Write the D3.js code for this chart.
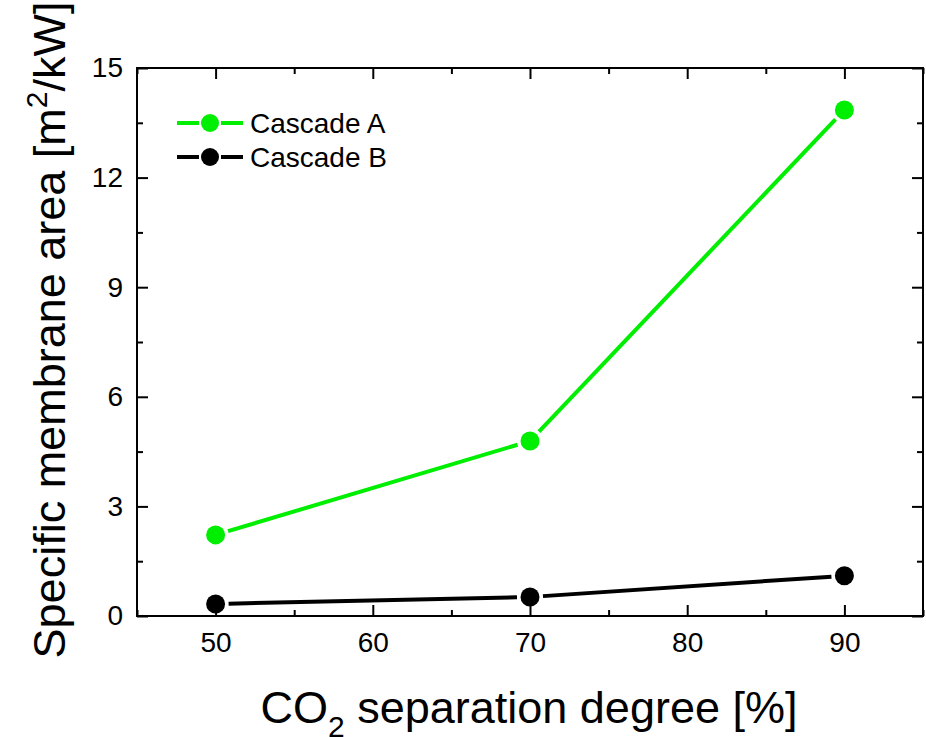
<!DOCTYPE html>
<html>
<head>
<meta charset="utf-8">
<script src="https://cdn.jsdelivr.net/npm/d3@7"></script>
<style>
  body { margin: 0; background: #fff; }
  text { font-family: "Liberation Sans", Arial, sans-serif; fill: #000; }
</style>
</head>
<body>
<div class="canvas"></div>
<script>
// data
const degrees = [50, 70, 90];
const cascadeA = [2.22, 4.79, 13.85];
const cascadeB = [0.33, 0.52, 1.1];
const seriesNames = ["Cascade A", "Cascade B"];
const xTicks = [50, 60, 70, 80, 90];
const yTicks = [0, 3, 6, 9, 12, 15];

const dims = { width: 926, height: 737 };
const margin = { left: 137, top: 68, right: 3, bottom: 121 };
const inner = {
  w: dims.width - margin.left - margin.right,
  h: dims.height - margin.top - margin.bottom
};
const colors = ["#00ee00", "#000000"];

const svg = d3
  .select(".canvas")
  .append("svg")
  .attr("width", dims.width)
  .attr("height", dims.height);

const graph = svg
  .append("g")
  .attr("transform", `translate(${margin.left}, ${margin.top})`);

const x = d3.scaleLinear().domain([45, 95]).range([0, inner.w]);
const y = d3.scaleLinear().domain([0, 15]).range([inner.h, 0]);

// axes, ticks pointing inwards
const axisStyle = (g) => {
  g.select(".domain").remove();
  g.selectAll("line").attr("stroke", "#000").attr("stroke-width", 2);
  g.selectAll("text").style("font-size", "28px").attr("fill", "#000");
};

const xMinor = d3.range(45, 96, 5).filter((v) => !xTicks.includes(v));
const yMinor = d3.range(1.5, 15, 3);

graph.append("g")
  .attr("transform", `translate(0, ${inner.h})`)
  .call(d3.axisBottom(x).tickValues(xTicks).tickSizeInner(-11).tickPadding(16).tickFormat(d3.format("d")))
  .call(axisStyle);
graph.append("g")
  .attr("transform", `translate(0, ${inner.h})`)
  .call(d3.axisBottom(x).tickValues(xMinor).tickSizeInner(-6).tickFormat(""))
  .call(axisStyle);
graph.append("g")
  .call(d3.axisTop(x).tickValues(xTicks).tickSizeInner(-11).tickFormat(""))
  .call(axisStyle);
graph.append("g")
  .call(d3.axisTop(x).tickValues(xMinor).tickSizeInner(-6).tickFormat(""))
  .call(axisStyle);

graph.append("g")
  .call(d3.axisLeft(y).tickValues(yTicks).tickSizeInner(-11).tickPadding(14).tickFormat(d3.format("d")))
  .call(axisStyle);
graph.append("g")
  .call(d3.axisLeft(y).tickValues(yMinor).tickSizeInner(-6).tickFormat(""))
  .call(axisStyle);
graph.append("g")
  .attr("transform", `translate(${inner.w}, 0)`)
  .call(d3.axisRight(y).tickValues(yTicks).tickSizeInner(-11).tickFormat(""))
  .call(axisStyle);
graph.append("g")
  .attr("transform", `translate(${inner.w}, 0)`)
  .call(d3.axisRight(y).tickValues(yMinor).tickSizeInner(-6).tickFormat(""))
  .call(axisStyle);

// frame
graph.append("rect")
  .attr("width", inner.w)
  .attr("height", inner.h)
  .attr("fill", "none")
  .attr("stroke", "#000")
  .attr("stroke-width", 2);

// series: segments with a gap around each marker
const gap = 13;
const series = [cascadeA, cascadeB];
series.forEach((vals, si) => {
  const pts = degrees.map((d, i) => [x(d), y(vals[i])]);
  const g = graph.append("g");
  for (let i = 0; i < pts.length - 1; i++) {
    const [x0, y0] = pts[i];
    const [x1, y1] = pts[i + 1];
    const len = Math.hypot(x1 - x0, y1 - y0);
    const ux = (x1 - x0) / len, uy = (y1 - y0) / len;
    g.append("line")
      .attr("x1", x0 + ux * gap).attr("y1", y0 + uy * gap)
      .attr("x2", x1 - ux * gap).attr("y2", y1 - uy * gap)
      .attr("stroke", colors[si])
      .attr("stroke-width", 4);
  }
  g.selectAll("circle")
    .data(pts)
    .enter()
    .append("circle")
    .attr("cx", (d) => d[0])
    .attr("cy", (d) => d[1])
    .attr("r", 9.5)
    .attr("fill", colors[si]);
});

// legend
const legendGroup = svg.append("g").attr("transform", "translate(177, 123)");
seriesNames.forEach((name, i) => {
  const row = legendGroup.append("g").attr("transform", `translate(0, ${i * 34})`);
  row.append("line").attr("x1", 0).attr("x2", 22).attr("stroke", colors[i]).attr("stroke-width", 4);
  row.append("line").attr("x1", 44).attr("x2", 66).attr("stroke", colors[i]).attr("stroke-width", 4);
  row.append("circle").attr("cx", 33).attr("r", 9).attr("fill", colors[i]);
  row.append("text")
    .attr("x", 73)
    .attr("dy", "0.35em")
    .style("font-size", "28px")
    .text(name);
});

// axis titles
const xTitle = svg.append("text")
  .attr("x", margin.left + inner.w / 2 - 1)
  .attr("y", 723)
  .attr("text-anchor", "middle")
  .style("font-size", "45px");
xTitle.append("tspan").text("CO");
xTitle.append("tspan").attr("dy", 14).style("font-size", "30px").text("2");
xTitle.append("tspan").attr("dy", -14).text(" separation degree [%]");

const yTitle = svg.append("text")
  .attr("transform", "translate(65, 330) rotate(-90)")
  .attr("text-anchor", "middle")
  .style("font-size", "45px");
yTitle.append("tspan").text("Specific membrane area [m");
yTitle.append("tspan").attr("dy", -18).style("font-size", "30px").text("2");
yTitle.append("tspan").attr("dy", 18).text("/kW]");
</script>
</body>
</html>
